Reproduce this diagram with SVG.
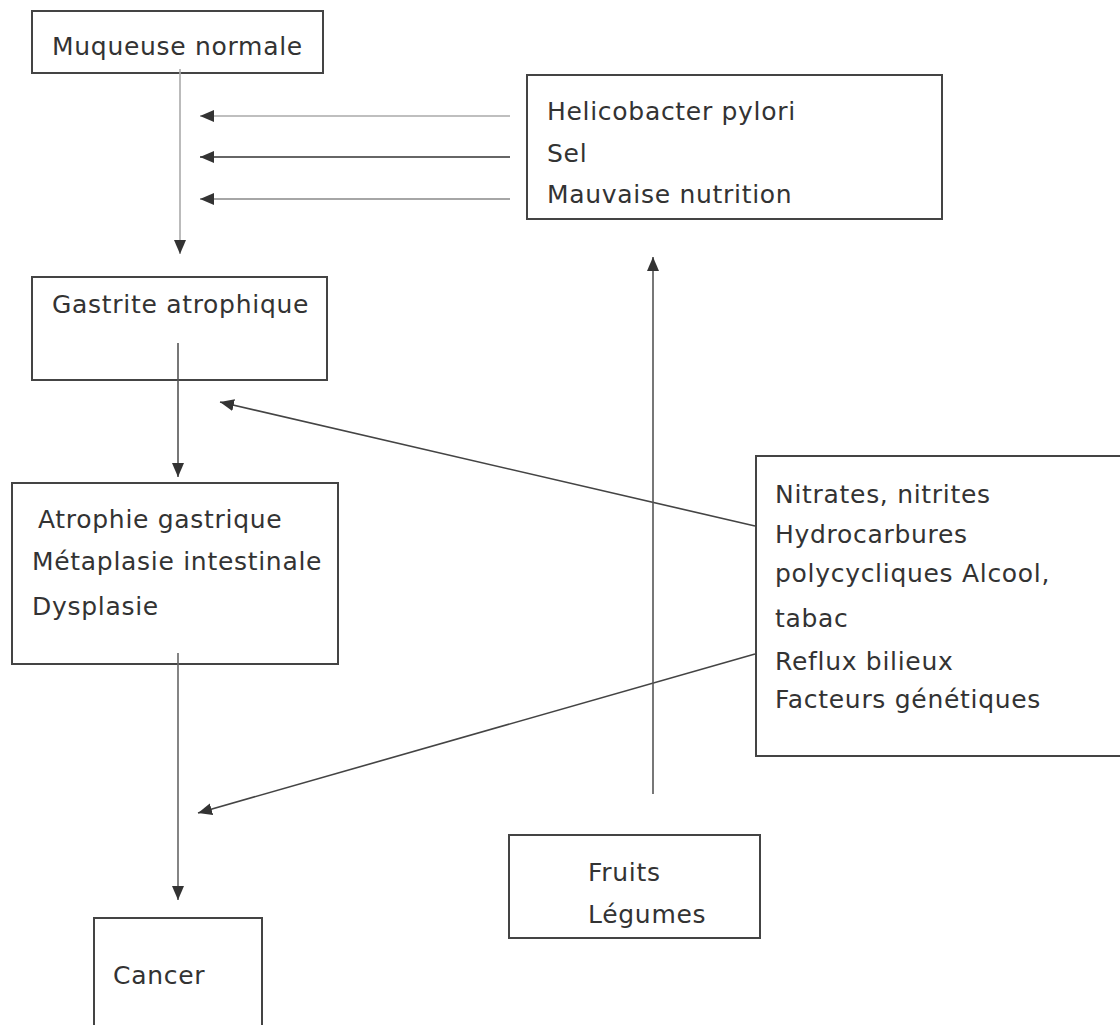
<svg xmlns="http://www.w3.org/2000/svg" width="1120" height="1025" viewBox="0 0 1120 1025">
<style>
.box{fill:#fff;stroke:#444;stroke-width:2}
.t{font-family:"DejaVu Sans",Verdana,sans-serif;font-size:25px;letter-spacing:0.7px;fill:#333}
.c{fill:none;stroke-width:1.6}
</style>
<defs>
<marker id="ah" markerUnits="userSpaceOnUse" markerWidth="14" markerHeight="12" refX="14" refY="6" orient="auto">
<path d="M0,0 L14,6 L0,12 z" fill="#333"/>
</marker>
</defs>
<rect width="1120" height="1025" fill="#fff"/>
<g id="n1"><rect class="box" x="32" y="11" width="291" height="62"/><text class="t" x="52" y="55">Muqueuse normale</text></g>
<g id="n2"><rect class="box" x="527" y="75" width="415" height="144"/>
<text class="t" x="547" y="120">Helicobacter pylori</text>
<text class="t" x="547" y="162">Sel</text>
<text class="t" x="547" y="203">Mauvaise nutrition</text></g>
<g id="n3"><rect class="box" x="32" y="277" width="295" height="103"/><text class="t" x="52" y="313">Gastrite atrophique</text></g>
<g id="n4"><rect class="box" x="12" y="483" width="326" height="181"/>
<text class="t" x="38" y="528">Atrophie gastrique</text>
<text class="t" x="32" y="570">Métaplasie intestinale</text>
<text class="t" x="32" y="615">Dysplasie</text></g>
<g id="n5"><rect class="box" x="756" y="456" width="380" height="300"/>
<text class="t" x="775" y="503">Nitrates, nitrites</text>
<text class="t" x="775" y="543">Hydrocarbures</text>
<text class="t" x="775" y="582">polycycliques Alcool,</text>
<text class="t" x="775" y="627">tabac</text>
<text class="t" x="775" y="670">Reflux bilieux</text>
<text class="t" x="775" y="708">Facteurs génétiques</text></g>
<g id="n6"><rect class="box" x="509" y="835" width="251" height="103"/>
<text class="t" x="588" y="881">Fruits</text>
<text class="t" x="588" y="923">Légumes</text></g>
<g id="n7"><rect class="box" x="94" y="918" width="168" height="140"/><text class="t" x="113" y="984">Cancer</text></g>
<g id="connectors">
<line class="c" x1="180" y1="69" x2="180" y2="254" stroke="#aaa" stroke-width="2.2" marker-end="url(#ah)"/>
<line class="c" x1="510" y1="116" x2="200" y2="116" stroke="#aaa" stroke-width="2.2" marker-end="url(#ah)"/>
<line class="c" x1="510" y1="157" x2="200" y2="157" stroke="#333" marker-end="url(#ah)"/>
<line class="c" x1="510" y1="199" x2="200" y2="199" stroke="#888" marker-end="url(#ah)"/>
<line class="c" x1="178" y1="343" x2="178" y2="477" stroke="#555" marker-end="url(#ah)"/>
<line class="c" x1="755" y1="526" x2="220" y2="402" stroke="#444" marker-end="url(#ah)"/>
<line class="c" x1="178" y1="653" x2="178" y2="900" stroke="#666" marker-end="url(#ah)"/>
<line class="c" x1="755" y1="654" x2="198" y2="813" stroke="#444" marker-end="url(#ah)"/>
<line class="c" x1="653" y1="794" x2="653" y2="257" stroke="#555" marker-end="url(#ah)"/>
</g>
</svg>
